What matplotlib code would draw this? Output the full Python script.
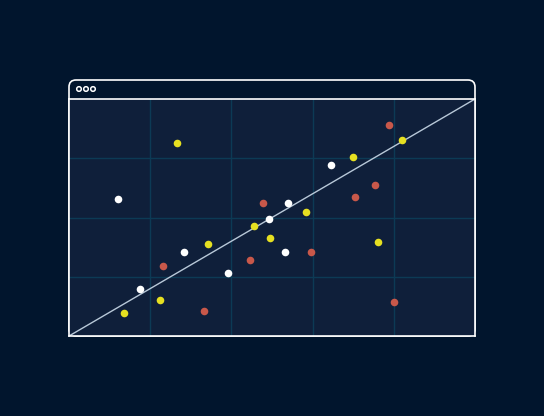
import matplotlib
matplotlib.use("Agg")
import matplotlib.pyplot as plt
from matplotlib.patches import FancyBboxPatch, Circle

white_x = [0.60, 0.87, 1.42, 1.96, 2.46, 2.70, 2.66, 3.23]
white_y = [2.31, 0.79, 1.42, 1.06, 1.97, 2.24, 1.42, 2.89]
yellow_x = [0.68, 1.12, 1.33, 1.71, 2.28, 2.48, 2.92, 3.50, 3.81, 4.10]
yellow_y = [0.39, 0.61, 3.26, 1.55, 1.86, 1.65, 2.09, 3.02, 1.59, 3.31]
red_x = [1.16, 1.66, 2.23, 2.39, 2.98, 3.52, 3.77, 3.94, 4.00]
red_y = [1.18, 0.42, 1.28, 2.24, 1.42, 2.35, 2.55, 3.56, 0.57]

W, H = 544, 416
bg = "#01152d"
fig = plt.figure(figsize=(W/100, H/100), dpi=100, facecolor=bg)

# frame axes in pixel coords
fa = fig.add_axes([0, 0, 1, 1])
fa.set_xlim(0, W); fa.set_ylim(H, 0); fa.axis("off")
fa.add_patch(FancyBboxPatch((69, 80), 406, 256, boxstyle="round,pad=0,rounding_size=7",
                            fc=bg, ec="white", lw=1.2))
for cx in (79, 86, 93):
    fa.add_patch(Circle((cx, 89), 2.3, fc="none", ec="white", lw=1.1))

ax = fig.add_axes([69/W, (H-336)/H, 406/W, 237/H])
ax.set_facecolor("#0f1f3a")
ax.set_xlim(0, 5); ax.set_ylim(0, 4)
ax.set_xticks([1, 2, 3, 4]); ax.set_yticks([1, 2, 3])
ax.grid(True, color="#0c3a55", lw=1)
ax.tick_params(length=0, labelbottom=False, labelleft=False)
for s in ax.spines.values():
    s.set_color("white"); s.set_linewidth(1.2)
ax.plot([0, 5], [0, 4], color="#b8c8d8", lw=1)
ax.scatter(white_x, white_y, s=30, color="white", zorder=3, lw=0)
ax.scatter(yellow_x, yellow_y, s=30, color="#e6e021", zorder=3, lw=0)
ax.scatter(red_x, red_y, s=30, color="#c8584a", zorder=3, lw=0)

fig.savefig("out.png", dpi=100, facecolor=bg)
